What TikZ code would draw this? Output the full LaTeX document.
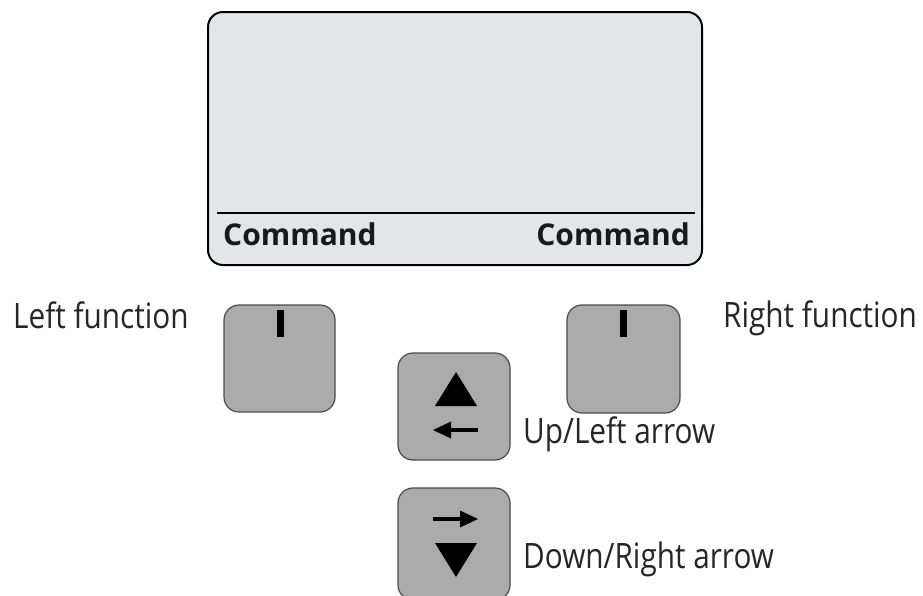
\documentclass[tikz,border=0pt]{standalone}
\usepackage{fontspec}
\setmainfont{Open Sans}
\newfontfamily\labelfont[FakeStretch=0.85]{Open Sans}
\newfontfamily\cmdfont{Open Sans}
\definecolor{screenfill}{HTML}{E3E6E9}
\definecolor{keyfill}{HTML}{ABABAB}
\definecolor{keyline}{HTML}{4A4A4A}
\begin{document}
\begin{tikzpicture}[x=1pt,y=-1pt,
  keybox/.style={draw=keyline,fill=keyfill,line width=1.2pt,rounded corners=15pt,
    minimum width=111pt,minimum height=107pt,inner sep=0pt},
  lbl/.style={inner sep=0pt,anchor=base west,font=\labelfont\fontsize{35}{40}\selectfont,text=black!85},
  cmd/.style={inner sep=0pt,font=\cmdfont\bfseries\fontsize{30}{36}\selectfont,text=black!90},
  tick/.style={fill=black},
  tri/.style={fill=black},
  shaft/.style={line width=4.5pt}]
\clip (0,0) rectangle (923,595);
% display
\node[draw=black,fill=screenfill,line width=2pt,rounded corners=15pt,
  minimum width=494pt,minimum height=253pt,inner sep=0pt] (screen) at (455,138.5) {};
\draw[line width=2pt] (217,213) -- (695,213);
\node[cmd,anchor=base west] (cmdL) at (223,245) {Command};
\node[cmd,anchor=base east] (cmdR) at (690,245) {Command};
% keys
\node[keybox] (lf) at (279.5,358.5) {};
\node[keybox,minimum width=113pt,minimum height=108pt] (rf) at (623.5,359) {};
\node[keybox,minimum width=112pt] (ul) at (454,406.5) {};
\node[keybox,minimum width=112pt,minimum height=112pt] (dr) at (454,544) {};
% ticks
\fill[tick] (276.5,310) rectangle (283.5,337);
\fill[tick] (620,310) rectangle (627,337);
% up/left symbols
\fill[tri] (435,406) -- (477,406) -- (456,372) -- cycle;
\draw[shaft] (449,430) -- (478,430);
\fill[tri] (433,430) -- (451,421.5) -- (451,438.5) -- cycle;
% right/down symbols
\draw[shaft] (433,519) -- (462,519);
\fill[tri] (478,519) -- (460,510.5) -- (460,527.5) -- cycle;
\fill[tri] (435,543) -- (477,543) -- (456,577) -- cycle;
% labels
\node[lbl] (tlf) at (13,328) {Left function};
\node[lbl] (trf) at (723,327) {Right function};
\node[lbl] (tul) at (523,443) {Up/Left arrow};
\node[lbl] (tdr) at (523,568) {Down/Right arrow};
\end{tikzpicture}
\end{document}
